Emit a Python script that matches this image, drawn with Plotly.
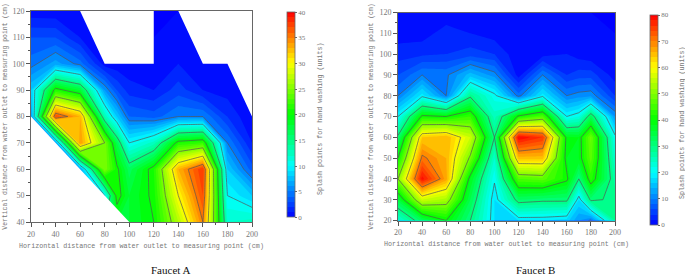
import plotly.graph_objects as go

x_a = [20, 40, 60, 80, 90, 100, 120, 140, 160, 180, 200]
y_a = [40, 50, 60, 70, 80, 90, 100, 110, 120]
z_a = [
    [6, 6, 6, 15, 18, 18, 20, 27, 35, 12, 12.5],
    [6, 6, 6, 10, 21, 18, 20.5, 30, 37, 10, 8],
    [6, 6, 6, 25, 20.5, 16.5, 21, 33, 38, 8, 3.5],
    [6, 6, 34, 25, 17, 10, 12.5, 21, 22, 5, 1],
    [6, 37, 33, 13, 8, 4, 3.5, 5, 5, 2, 0],
    [8, 21, 18, 6, 3, 1.5, 1, 2.5, 1, 0.5, 0],
    [4.5, 6.5, 4.5, 0.5, 0.3, 0.2, 0, 1, 0, 0, 0],
    [3, 3, 1, 0, 0, 0, 0, 0.5, 0, 0, 0],
    [0.3, 0.2, 0, 0, 0, 0, 0, 0, 0, 0, 0],
]
notch1_x = [60, 80, 120, 120, 60]
notch1_y = [120, 100, 100, 120, 120]
notch2_x = [140, 160, 180, 200, 200, 140]
notch2_y = [120, 100, 100, 80, 120, 120]
notch3_x = [20, 100, 20, 20]
notch3_y = [80, 40, 40, 80]

x_b = [20, 40, 60, 80, 100, 120, 140, 160, 170, 180, 200]
y_b = [20, 30, 40, 50, 60, 70, 80, 90, 100, 110, 120]
z_b = [
    [23, 33, 40, 30, 18, 18, 18, 17, 12, 9.5, 28],
    [35, 56, 53, 34, 18, 32, 31, 31, 18, 31, 29],
    [50, 79, 67, 38, 20.5, 46, 47, 41, 30, 43, 27],
    [40, 71, 66, 49, 24, 65, 65, 38, 38, 47, 24],
    [31, 64, 66, 56, 30, 80, 76, 38.5, 38, 48.5, 21],
    [20, 41, 40, 44, 25, 41, 46, 20, 22, 33, 12],
    [10, 19, 10, 29, 21, 9, 19, 10, 11, 11.5, 4],
    [6, 10, 9.5, 15, 11, 1, 10, 4, 5, 5, 1],
    [3, 3.5, 4, 5, 4, 0.5, 1, 2, 1, 0.5, 0],
    [1, 1, 3, 2, 1, 0.3, 0.3, 0.5, 0.3, 0.2, 0],
    [0, 0, 0.5, 0.3, 0, 0, 0, 0, 0, 0, 0],
]

x_ticks = [20, 40, 60, 80, 100, 120, 140, 160, 180, 200]
y_ticks_a = [40, 50, 60, 70, 80, 90, 100, 110, 120]
y_ticks_b = [20, 30, 40, 50, 60, 70, 80, 90, 100, 110, 120]
x_title = "Horizontal distance from water outlet to measuring point (cm)"
y_title = "Vertical distance from water outlet to measuring point (cm)"
c_title = "Splash points for hand washing (units)"
captions = ["Faucet A", "Faucet B"]

W, H = 685, 276
GRAY = "#777777"
scale = [[0, "#0000ff"], [0.25, "#00ffff"], [0.5, "#00ff00"], [0.75, "#ffff00"], [1, "#ff0000"]]
mono = dict(family="Liberation Mono", size=6.7, color=GRAY)
mono_y = dict(family="Liberation Mono", size=6.4, color=GRAY)
tickf = dict(family="Liberation Serif", size=8, color=GRAY)

def fx(p): return p / W
def fy(p): return 1 - p / H

fig = go.Figure()

def add(x, y, z, zmax, step, line_step, xa, ya, bar_x, bar_top, bar_bot):
    fig.add_trace(go.Contour(
        x=x, y=y, z=z, xaxis=xa, yaxis=ya, zmin=0, zmax=zmax, colorscale=scale,
        connectgaps=False, line=dict(width=0, smoothing=0), autocontour=False,
        contours=dict(start=0, end=zmax, size=step, coloring="fill", showlines=False),
        colorbar=dict(x=fx(bar_x), xanchor="left", xpad=0, ypad=0, thickness=8,
                      y=fy(bar_bot), yanchor="bottom", len=(bar_bot - bar_top) / H,
                      outlinewidth=0.8, outlinecolor="#666666", dtick=line_step, tick0=0,
                      ticks="outside", ticklen=2, tickwidth=0.6, tickcolor="#666666",
                      tickfont=dict(family="Liberation Serif", size=7, color=GRAY)),
    ))
    fig.add_trace(go.Contour(
        x=x, y=y, z=z, xaxis=xa, yaxis=ya, showscale=False, connectgaps=False,
        autocontour=False, hoverinfo="skip", line=dict(width=0.7, color="#555555", smoothing=0),
        contours=dict(start=line_step, end=zmax - line_step, size=line_step, coloring="none"),
    ))

add(x_a, y_a, z_a, 40, 1, 5, "x", "y", 287, 12.7, 217.3)
add(x_b, y_b, z_b, 80, 2, 10, "x2", "y2", 650, 14.7, 225)
for mx, my in [(notch1_x, notch1_y), (notch2_x, notch2_y), (notch3_x, notch3_y)]:
    fig.add_trace(go.Scatter(x=mx, y=my, xaxis="x", yaxis="y", mode="lines", fill="toself",
                             fillcolor="white", line=dict(width=0), hoverinfo="skip"))

def xaxis(left, right, anchor):
    return dict(domain=[fx(left), fx(right)], range=[20, 200], tickvals=x_ticks, anchor=anchor,
                ticks="outside", ticklen=4, tickwidth=0.8, tickcolor="#555555", tickfont=tickf,
                showline=True, linecolor="#666666", linewidth=1, mirror=True, showgrid=False,
                zeroline=False, title=dict(text=x_title, font=mono, standoff=5),
                minor=dict(dtick=10, ticks="outside", ticklen=2, tickwidth=0.6, tickcolor="#555555", tick0=0))

def yaxis(top, bot, rng, vals, anchor, standoff):
    return dict(domain=[fy(bot), fy(top)], range=rng, tickvals=vals, anchor=anchor,
                ticks="outside", ticklen=4, tickwidth=0.8, tickcolor="#555555", tickfont=tickf,
                showline=True, linecolor="#666666", linewidth=1, mirror=True, showgrid=False,
                zeroline=False, title=dict(text=y_title, font=mono_y, standoff=standoff),
                minor=dict(dtick=5, ticks="outside", ticklen=2, tickwidth=0.6, tickcolor="#555555", tick0=0))

fig.update_layout(
    width=W, height=H, margin=dict(l=0, r=0, t=0, b=0, autoexpand=False), paper_bgcolor="white", plot_bgcolor="white",
    showlegend=False,
    xaxis=xaxis(31, 252, "y"), yaxis=yaxis(11, 222, [40, 120], y_ticks_a, "x", 4),
    xaxis2=xaxis(398, 615, "y2"), yaxis2=yaxis(12.5, 220.5, [20, 120], y_ticks_b, "x2", 5),
    annotations=[
        dict(text=captions[0], x=fx(170), y=fy(269.5), xref="paper", yref="paper", showarrow=False,
             font=dict(family="Liberation Serif", size=11, color="#111111"), xanchor="center", yanchor="middle"),
        dict(text=captions[1], x=fx(535), y=fy(269.5), xref="paper", yref="paper", showarrow=False,
             font=dict(family="Liberation Serif", size=11, color="#111111"), xanchor="center", yanchor="middle"),
        dict(text=c_title, x=fx(320), y=fy(119), xref="paper", yref="paper", showarrow=False, textangle=-90,
             font=mono, xanchor="center", yanchor="middle"),
        dict(text=c_title, x=fx(682), y=fy(123), xref="paper", yref="paper", showarrow=False, textangle=-90,
             font=mono, xanchor="center", yanchor="middle"),
    ],
)
page_css = "document.body.style.margin='0';document.documentElement.style.overflow='hidden';"
fig.write_html("out.html", post_script=page_css, config=dict(displayModeBar=False))
